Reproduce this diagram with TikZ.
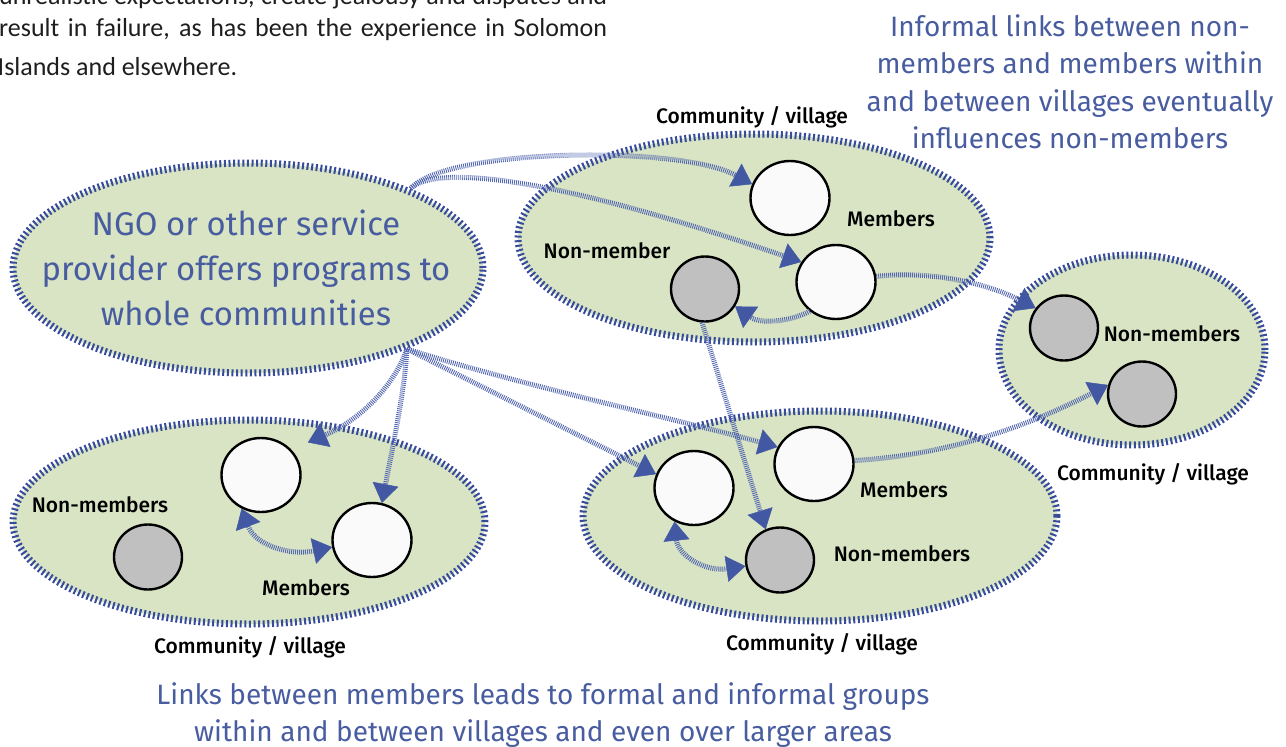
\documentclass[tikz,border=0pt]{standalone}
\usepackage{fontspec}
\setmainfont{Fira Sans}
\newfontfamily\medfont{Fira Sans Medium}
\newfontfamily\parafont{Carlito}
\usetikzlibrary{shapes.geometric,arrows.meta}
\definecolor{greenfill}{RGB}{216,228,196}
\definecolor{rimblue}{RGB}{55,75,155}
\definecolor{txtblue}{RGB}{72,92,160}
\definecolor{linkblue}{RGB}{84,104,176}
\definecolor{tipblue}{RGB}{66,88,162}
\definecolor{graydot}{RGB}{192,192,192}
\definecolor{whitedot}{RGB}{250,250,250}
\definecolor{paraink}{RGB}{30,30,30}
\begin{document}
\begin{tikzpicture}[x=1pt,y=-1pt,
  village/.style={ellipse, draw=rimblue, fill=greenfill, line width=7pt,
    dash pattern=on 2pt off 2.6pt, inner sep=0pt},
  memb/.style={ellipse, draw=black, fill=whitedot, line width=2.4pt,
    minimum width=79pt, minimum height=74pt, inner sep=0pt},
  nonmemb/.style={ellipse, draw=black, fill=graydot, line width=2.4pt,
    minimum width=68pt, minimum height=65pt, inner sep=0pt},
  link/.style={draw=linkblue, line width=5pt, dash pattern=on 0.9pt off 1.1pt,
    -{Triangle[length=19pt,width=26pt,line width=0.5pt,color=tipblue]}},
  duallink/.style={draw=linkblue, line width=5pt, dash pattern=on 0.9pt off 1.1pt,
    {Triangle[length=19pt,width=26pt,line width=0.5pt,color=tipblue]}-{Triangle[length=19pt,width=26pt,line width=0.5pt,color=tipblue]}},
  lbl/.style={font=\medfont\fontsize{21}{25}\selectfont, text=black, inner sep=0pt, anchor=base},
  bluetxt/.style={font=\fontsize{28}{37}\selectfont, text=txtblue, inner sep=0pt, anchor=base},
  ngotxt/.style={font=\fontsize{32.8}{45}\selectfont, text=txtblue, inner sep=0pt, anchor=base},
  paratxt/.style={font=\parafont\fontsize{26}{37}\selectfont, text=paraink, inner sep=0pt, anchor=base west},
]
\useasboundingbox (0,0) rectangle (1286,747);
\clip (0,0) rectangle (1286,747);

% paragraph fragment
\node[paratxt] (p1) at (-1,4) {\makebox[608pt][s]{unrealistic expectations, create jealousy and disputes and}};
\node[paratxt] (p2) at (-1,36) {\makebox[608pt][s]{result in failure, as has been the experience in Solomon}};
\node[paratxt] (p3) at (-2.5,75) {Islands and elsewhere.};

% villages
\node[village, minimum width=470pt, minimum height=210pt] (ngo) at (248,268) {};
\node[village, minimum width=472pt, minimum height=208pt] (vtop) at (754,238) {};
\node[village, minimum width=266pt, minimum height=190pt] (vright) at (1132,350) {};
\node[village, minimum width=472pt, minimum height=204pt] (vleft) at (249,522) {};
\node[village, minimum width=474pt, minimum height=210pt] (vmid) at (820,516) {};

% NGO text
\node[ngotxt] (n1) at (246,235) {NGO or other service};
\node[ngotxt] (n2) at (246,280) {provider offers programs to};
\node[ngotxt] (n3) at (246,325) {whole communities};

% people
\node[memb] (a1) at (790,198) {};
\node[memb] (a2) at (836,282) {};
\node[nonmemb] (ag) at (705,289) {};
\node[nonmemb] (rg1) at (1064,328) {};
\node[nonmemb] (rg2) at (1142,394) {};
\node[memb] (b1) at (261,475) {};
\node[memb] (b2) at (372,540) {};
\node[nonmemb] (bg) at (148,557) {};
\node[memb] (c1) at (694,488) {};
\node[memb] (c2) at (814,464) {};
\node[nonmemb] (cg) at (780,560) {};

% labels
\node[lbl] (l1) at (752,123) {Community / village};
\node[lbl] (l2) at (891,226) {Members};
\node[lbl] (l3) at (607,258) {Non-member};
\node[lbl] (l4) at (1172,341) {Non-members};
\node[lbl] (l5) at (1153,480) {Community / village};
\node[lbl] (l6) at (100,512) {Non-members};
\node[lbl] (l7) at (306,595) {Members};
\node[lbl] (l8) at (250,653) {Community / village};
\node[lbl] (l9) at (904,497) {Members};
\node[lbl] (l10) at (902,561) {Non-members};
\node[lbl] (l11) at (822,650) {Community / village};

% captions
\node[bluetxt] (i1) at (1070,36) {Informal links between non-};
\node[bluetxt] (i2) at (1070,73) {members and members within};
\node[bluetxt] (i3) at (1070,111) {and between villages eventually};
\node[bluetxt] (i4) at (1070,148) {influences non-members};
\node[bluetxt] (k1) at (543,704) {Links between members leads to formal and informal groups};
\node[bluetxt] (k2) at (543,741) {within and between villages and even over larger areas};

% links
\draw[link] (ngo.26) .. controls (445,148) and (680,145) .. (a1.160);
\draw[link] (ngo.26) .. controls (430,168) and (530,168) .. (a2.150);
\draw[link] (a2.228) .. controls (790,322) and (760,324) .. (ag.-30);
\draw[link] (a2.8) .. controls (935,270) and (990,285) .. (rg1.145);
\draw[link] (ag.-95) -- (cg.115);
\draw[link, shorten >=18pt] (ngo.-27) .. controls (395,385) and (360,420) .. (b1.40);
\draw[link] (ngo.-27) .. controls (405,390) and (392,450) .. (b2.75);
\draw[link] (ngo.-27) -- (c1.160);
\draw[link] (ngo.-27) .. controls (520,385) and (680,420) .. (c2.155);
\draw[duallink] (b1.240) .. controls (255,545) and (290,556) .. (b2.190);
\draw[duallink] (c1.240) .. controls (678,555) and (705,572) .. (cg.190);
\draw[link] (c2.5) .. controls (950,455) and (1030,425) .. (rg2.165);
\end{tikzpicture}
\end{document}
